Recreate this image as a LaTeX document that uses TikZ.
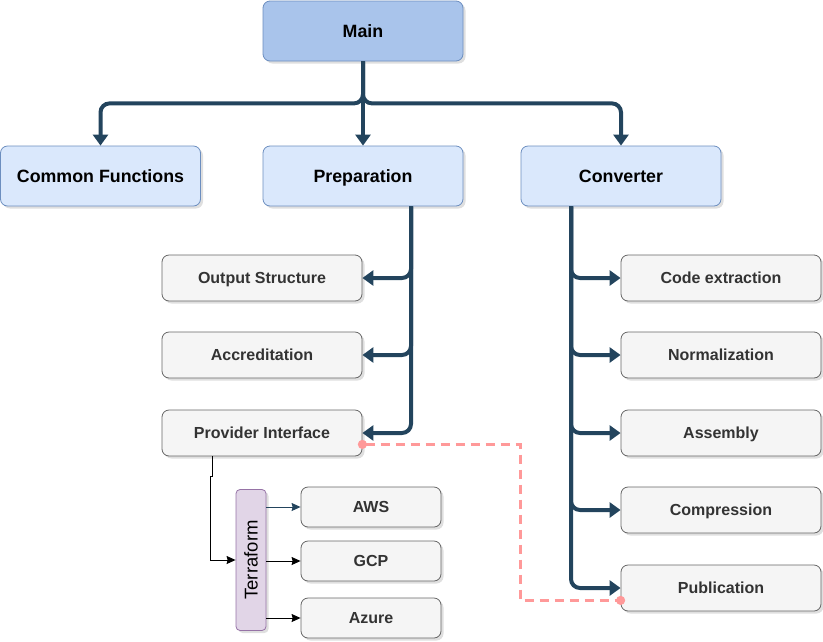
\documentclass[tikz,border=0pt]{standalone}
\usepackage{fontspec}
\setmainfont{Liberation Sans}
\usetikzlibrary{arrows.meta,shadows}
\definecolor{navy}{HTML}{23445D}
\definecolor{mainfill}{HTML}{A9C4EB}
\definecolor{bluefill}{HTML}{DAE8FC}
\definecolor{blueline}{HTML}{6C8EBF}
\definecolor{grayfill}{HTML}{F5F5F5}
\definecolor{grayline}{HTML}{666666}
\definecolor{graytext}{HTML}{333333}
\definecolor{purplefill}{HTML}{E1D5E7}
\definecolor{purpleline}{HTML}{9673A6}
\definecolor{pink}{HTML}{FF9999}
\begin{document}
\begin{tikzpicture}[x=1pt, y=-1pt,
  box/.style={rectangle, rounded corners=7pt, line width=0.8pt, align=center, text depth=0pt,
    drop shadow={shadow xshift=2.5pt, shadow yshift=-2.5pt, opacity=0.25}},
  topbox/.style={box, draw=blueline, fill=bluefill, minimum width=200pt, minimum height=60pt,
    text height=12.7pt, font=\fontsize{17.8}{20}\selectfont\bfseries},
  subbox/.style={box, draw=grayline, fill=grayfill, text=graytext, minimum width=200pt, minimum height=46pt,
    text height=11.5pt, font=\fontsize{16}{19}\selectfont\bfseries},
  cloudbox/.style={subbox, minimum width=140pt, minimum height=40pt},
  thick edge/.style={draw=navy, line width=4pt, rounded corners=9pt, -{Triangle[length=11pt,width=15pt]}},
  thin edge/.style={line width=1pt, -{Stealth[length=9pt,width=8pt,inset=1pt]}},
  dash link/.style={draw=pink, line width=2.5pt, dash pattern=on 9pt off 6pt,
    shorten <=-4.5pt, shorten >=-4.5pt, {Circle[length=9pt]}-{Circle[length=9pt]}}]
\useasboundingbox (0,0) rectangle (823,641);
\node[topbox, fill=mainfill] (main) at (363,31) {Main};
\node[topbox] (common) at (100.5,176) {Common Functions};
\node[topbox] (prep) at (363,176) {Preparation};
\node[topbox] (conv) at (621,176) {Converter};

\node[subbox] (out) at (262,278) {Output Structure};
\node[subbox] (accr) at (262,355) {Accreditation};
\node[subbox] (prov) at (262,433) {Provider Interface};

\node[subbox] (code) at (721,278) {Code extraction};
\node[subbox] (norm) at (721,355) {Normalization};
\node[subbox] (asm) at (721,433) {Assembly};
\node[subbox] (comp) at (721,510) {Compression};
\node[subbox] (pub) at (721,588) {Publication};

\node[box, draw=purpleline, fill=purplefill, minimum width=141pt, minimum height=30pt, rounded corners=4pt,
  rotate=90, text height=13.2pt, font=\fontsize{18.5}{21}\selectfont] (tf) at (251,560) {Terraform};
\node[cloudbox] (aws) at (371,507) {AWS};
\node[cloudbox] (gcp) at (371,561) {GCP};
\node[cloudbox] (azure) at (371,618) {Azure};

\draw[thick edge] (main) -- (prep);
\draw[thick edge] (main.south) -- ++(0,42) -| (common.north);
\draw[thick edge] (main.south) -- ++(0,42) -| (conv.north);

\draw[thick edge] ([xshift=48pt]prep.south) |- (out.east);
\draw[thick edge] ([xshift=48pt]prep.south) |- (accr.east);
\draw[thick edge] ([xshift=48pt]prep.south) |- (prov.east);

\draw[thick edge] ([xshift=-50pt]conv.south) |- (code.west);
\draw[thick edge] ([xshift=-50pt]conv.south) |- (norm.west);
\draw[thick edge] ([xshift=-50pt]conv.south) |- (asm.west);
\draw[thick edge] ([xshift=-50pt]conv.south) |- (comp.west);
\draw[thick edge] ([xshift=-50pt]conv.south) |- (pub.west);

\draw[thin edge] ([xshift=-50pt]prov.south) -- ++(0,20) -- ++(-2,0) |- (tf.north);
\draw[thin edge, navy] (tf.south |- aws.west) -- (aws.west);
\draw[thin edge] (tf.south |- gcp.west) -- (gcp.west);
\draw[thin edge] (tf.south |- azure.west) -- (azure.west);

\draw[dash link] ([yshift=12pt]prov.south east) -- ++(158,0) |- ([yshift=11pt]pub.south west);
\end{tikzpicture}
\end{document}
